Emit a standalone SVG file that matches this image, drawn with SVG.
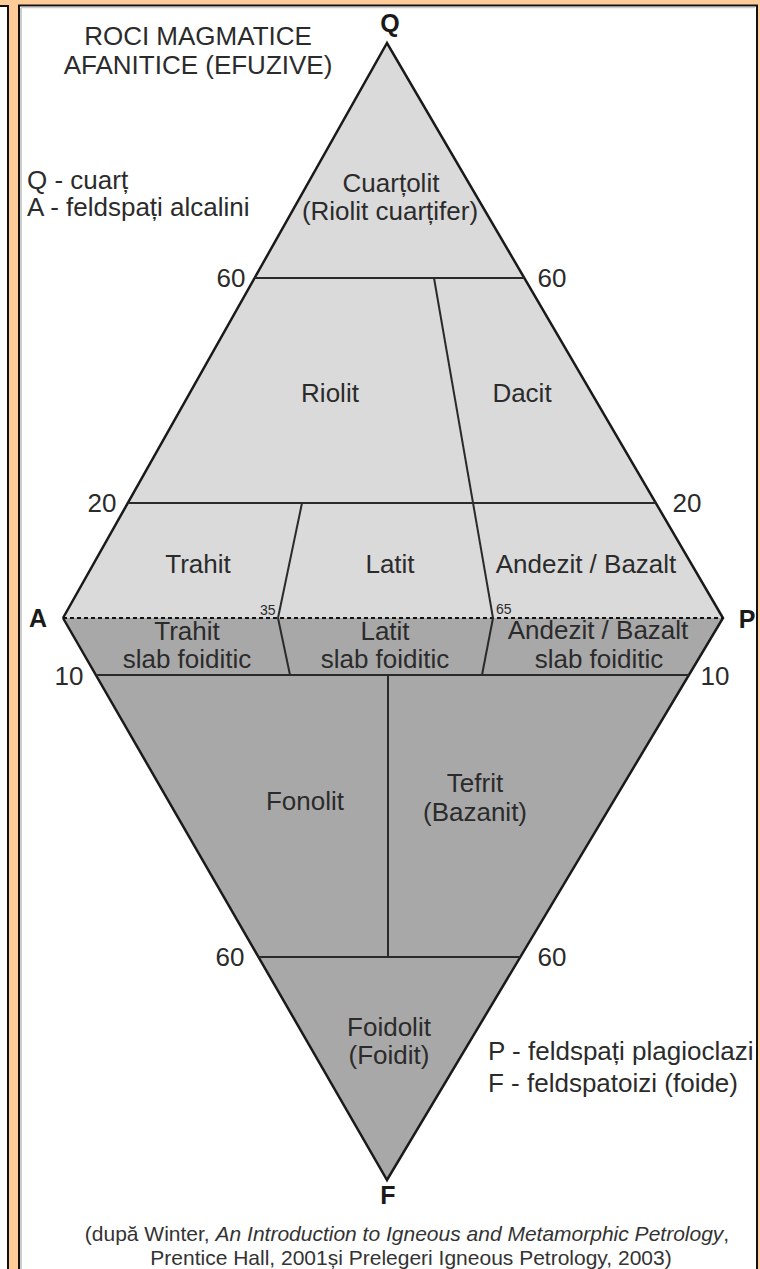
<svg xmlns="http://www.w3.org/2000/svg" width="760" height="1269" viewBox="0 0 760 1269">
<style>
.lbl{font-family:"Liberation Sans",Arial,sans-serif;font-size:26px;fill:#2b2b2b;text-anchor:middle}
.lft{text-anchor:start}
.vx{font-family:"Liberation Sans",Arial,sans-serif;font-size:25px;font-weight:bold;fill:#1a1a1a;text-anchor:middle}
.sm{font-family:"Liberation Sans",Arial,sans-serif;font-size:14px;fill:#2b2b2b}
.cap{font-family:"Liberation Sans",Arial,sans-serif;font-size:21px;fill:#333;text-anchor:middle}
.up{fill:#dadada;stroke:none}
.lo{fill:#a8a8a8;stroke:none}
.edge{stroke:#1a1a1a;stroke-width:2.5;fill:none;stroke-linejoin:miter}
.div{stroke:#2a2a2a;stroke-width:2;fill:none}
.dash{stroke:#111;stroke-width:2;stroke-dasharray:4 3;fill:none}
</style>
<rect x="0" y="0" width="760" height="1269" fill="#ffcc99"/>
<rect x="-10" y="6" width="18" height="1280" fill="#ffffff" stroke="#111" stroke-width="2"/>
<rect x="19" y="5.5" width="738" height="1280" fill="#ffffff" stroke="#111" stroke-width="2"/>
<line x1="21" y1="8" x2="21" y2="1269" stroke="#bbb" stroke-width="1.5"/>
<line x1="21" y1="7.5" x2="755" y2="7.5" stroke="#ccc" stroke-width="1.5"/>

<g id="title">
<text class="lbl" x="198" y="45">ROCI MAGMATICE</text>
<text class="lbl" x="198" y="74">AFANITICE (EFUZIVE)</text>
</g>
<g id="legend-QA">
<text class="lbl lft" x="27" y="189">Q - cuarț</text>
<text class="lbl lft" x="27" y="216">A - feldspați alcalini</text>
</g>
<g id="legend-PF">
<text class="lbl lft" x="488" y="1060">P - feldspați plagioclazi</text>
<text class="lbl lft" x="488" y="1092">F - feldspatoizi (foide)</text>
</g>

<g id="cuartolit">
<polygon class="up" points="387,43 254.6,278 524.3,278"/>
<text class="lbl" x="391" y="192">Cuarțolit</text>
<text class="lbl" x="390" y="220">(Riolit cuarțifer)</text>
</g>
<g id="riolit">
<polygon class="up" points="254.6,278 434,278 473,503 127.8,503"/>
<text class="lbl" x="330" y="402">Riolit</text>
</g>
<g id="dacit">
<polygon class="up" points="434,278 524.3,278 655.8,503 473,503"/>
<text class="lbl" x="522" y="402">Dacit</text>
</g>
<g id="trahit">
<polygon class="up" points="127.8,503 302,503 278,618 63,618"/>
<text class="lbl" x="198" y="573">Trahit</text>
</g>
<g id="latit">
<polygon class="up" points="302,503 473,503 493,618 278,618"/>
<text class="lbl" x="390" y="573">Latit</text>
</g>
<g id="andezit">
<polygon class="up" points="473,503 655.8,503 723,618 493,618"/>
<text class="lbl" x="586" y="573">Andezit / Bazalt</text>
</g>
<g id="trahit-slab">
<polygon class="lo" points="63,618 278,618 290,675 95.9,675"/>
<text class="lbl" x="187" y="640">Trahit</text>
<text class="lbl" x="187" y="668">slab foiditic</text>
</g>
<g id="latit-slab">
<polygon class="lo" points="278,618 493,618 482,675 290,675"/>
<text class="lbl" x="385" y="640">Latit</text>
<text class="lbl" x="385" y="668">slab foiditic</text>
</g>
<g id="andezit-slab">
<polygon class="lo" points="493,618 723,618 688.9,675 482,675"/>
<text class="lbl" x="598" y="639">Andezit / Bazalt</text>
<text class="lbl" x="599" y="668">slab foiditic</text>
</g>
<g id="fonolit">
<polygon class="lo" points="95.9,675 388,675 388,957 258.4,957"/>
<text class="lbl" x="305" y="810">Fonolit</text>
</g>
<g id="tefrit">
<polygon class="lo" points="388,675 688.9,675 520.3,957 388,957"/>
<text class="lbl" x="475" y="792">Tefrit</text>
<text class="lbl" x="475" y="821">(Bazanit)</text>
</g>
<g id="foidolit">
<polygon class="lo" points="258.4,957 520.3,957 387,1180"/>
<text class="lbl" x="389" y="1036">Foidolit</text>
<text class="lbl" x="389" y="1064">(Foidit)</text>
</g>

<g id="connectors">
<polyline class="edge" points="63,618 387,43 723,618 387,1180 63,618"/>
<line class="dash" x1="63" y1="618" x2="723" y2="618"/>
<line class="div" x1="254.6" y1="278" x2="524.3" y2="278"/>
<line class="div" x1="127.8" y1="503" x2="655.8" y2="503"/>
<line class="div" x1="434" y1="278" x2="493" y2="618"/>
<line class="div" x1="302" y1="503" x2="278" y2="618"/>
<line class="div" x1="278" y1="618" x2="290" y2="675"/>
<line class="div" x1="493" y1="618" x2="482" y2="675"/>
<line class="div" x1="95.9" y1="675" x2="688.9" y2="675"/>
<line class="div" x1="388" y1="675" x2="388" y2="957"/>
<line class="div" x1="258.4" y1="957" x2="520.3" y2="957"/>
</g>

<g id="vertices">
<text class="vx" x="390" y="32">Q</text>
<text class="vx" x="38" y="627">A</text>
<text class="vx" x="747" y="628">P</text>
<text class="vx" x="388" y="1204">F</text>
</g>
<g id="ticks">
<text class="lbl" x="231" y="287">60</text>
<text class="lbl" x="552" y="287">60</text>
<text class="lbl" x="102" y="512">20</text>
<text class="lbl" x="687" y="512">20</text>
<text class="lbl" x="69" y="685">10</text>
<text class="lbl" x="715" y="685">10</text>
<text class="lbl" x="230" y="966">60</text>
<text class="lbl" x="552" y="966">60</text>
<text class="sm" x="260" y="615">35</text>
<text class="sm" x="496" y="614">65</text>
</g>
<g id="caption">
<text class="cap" x="407" y="1241">(după Winter, <tspan font-style="italic">An Introduction to Igneous and Metamorphic Petrology</tspan>,</text>
<text class="cap" x="411" y="1265">Prentice Hall, 2001și Prelegeri Igneous Petrology, 2003)</text>
</g>
</svg>
